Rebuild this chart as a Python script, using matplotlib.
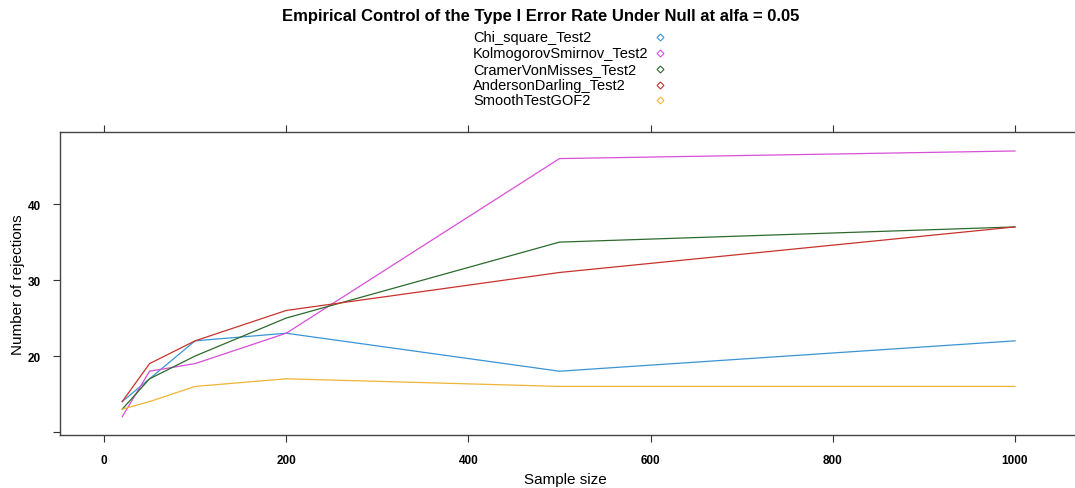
import matplotlib
matplotlib.use("Agg")
import matplotlib.pyplot as plt
from matplotlib.lines import Line2D

plt.rcParams['font.family'] = ['Liberation Sans', 'DejaVu Sans']

sample_sizes = [20, 50, 100, 200, 500, 1000]
chi_square = [14, 17, 22, 23, 18, 22]
kolmogorov_smirnov = [12, 18, 19, 23, 46, 47]
cramer_von_misses = [13, 17, 20, 25, 35, 37]
anderson_darling = [14, 19, 22, 26, 31, 37]
smooth_test = [13, 14, 16, 17, 16, 16]

series_names = ["Chi_square_Test2", "KolmogorovSmirnov_Test2", "CramerVonMisses_Test2",
                "AndersonDarling_Test2", "SmoothTestGOF2"]
series_values = [chi_square, kolmogorov_smirnov, cramer_von_misses, anderson_darling, smooth_test]
colors = ["#3a95d6", "#d84fd8", "#2d6a2d", "#c8322c", "#f0b436"]

x_ticks = [0, 200, 400, 600, 800, 1000]
y_ticks = [10, 20, 30, 40]
y_tick_labels = ["", "20", "30", "40"]

fig = plt.figure(figsize=(10.75, 4.89), dpi=100)
left_px, right_px = 60, 1086
ax = fig.add_axes([left_px/1075, 1-436/489, (right_px-left_px)/1075, (436-133)/489])

for vals, col in zip(series_values, colors):
    ax.plot(sample_sizes, vals, color=col, lw=0.9)

ax.set_xlim((left_px-104)/0.911, (right_px-104)/0.911)
ax.set_ylim(9.6, 49.5)
ax.set_xticks(x_ticks)
ax.set_xticklabels([str(t) for t in x_ticks], fontweight='bold', fontsize=8.5)
ax.set_yticks(y_ticks)
ax.set_yticklabels(y_tick_labels, fontweight='bold', fontsize=8.5)
ax.tick_params(axis='x', direction='out', length=5, width=0.8, top=True, bottom=True, pad=9, colors='#333333', labelcolor='black')
ax.tick_params(axis='y', direction='out', length=5, width=0.8, left=True, right=False, pad=9, colors='#333333', labelcolor='black')
for s in ['left', 'top', 'bottom']:
    ax.spines[s].set_color('#444444')
    ax.spines[s].set_linewidth(1.0)
ax.spines['right'].set_visible(False)

fig.text(18/1075, 1-285/489, "Number of rejections", rotation=90, ha='center', va='center', fontsize=11)
fig.text(565/1075, 1-480/489, "Sample size", ha='center', va='center', fontsize=11)
fig.text(541/1075, 1-17/489, "Empirical Control of the Type I Error Rate Under Null at alfa = 0.05",
         ha='center', va='center', fontsize=12, fontweight='bold')

for name, col, yy in zip(series_names, colors, [38, 54, 70, 86, 101]):
    fig.text(473/1075, 1-yy/489, name, ha='left', va='center', fontsize=10.5)
    fig.add_artist(Line2D([660/1075], [1-yy/489], marker='D', markersize=3.5, markerfacecolor='none',
                          markeredgecolor=col, markeredgewidth=0.8, transform=fig.transFigure))

fig.savefig("out.png", dpi=100)
